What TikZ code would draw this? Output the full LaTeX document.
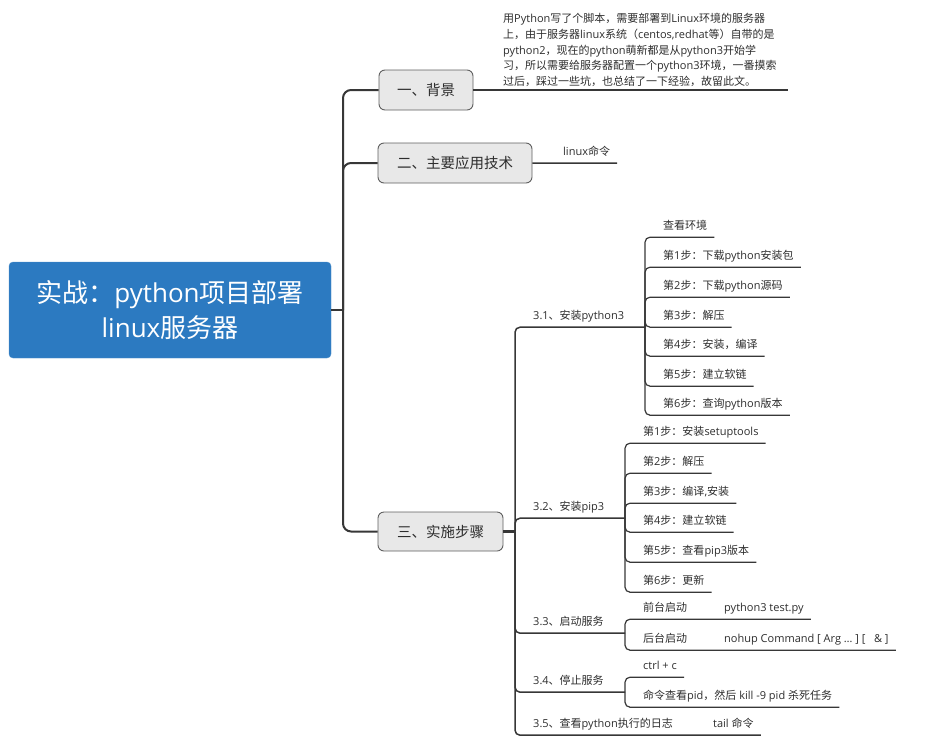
\documentclass[tikz,border=0pt]{standalone}
\usepackage{fontspec}
\setmainfont{Open Sans}
\newfontfamily\cjkf{Noto Sans CJK SC}
\newfontfamily\latf{Open Sans}
\XeTeXinterchartokenstate=1
\newXeTeXintercharclass\CJKcls
\newcount\cjkc
\cjkc="3000
\loop \XeTeXcharclass\cjkc=\CJKcls \advance\cjkc by 1 \ifnum\cjkc<"A000 \repeat
\cjkc="FF00
\loop \XeTeXcharclass\cjkc=\CJKcls \advance\cjkc by 1 \ifnum\cjkc<"FFF0 \repeat
\XeTeXinterchartoks 0 \CJKcls={\cjkf}
\XeTeXinterchartoks 4095 \CJKcls={\cjkf}
\XeTeXinterchartoks \CJKcls 0={\latf}
\XeTeXinterchartoks \CJKcls 4095={\latf}
\definecolor{rootblue}{RGB}{44,122,193}
\definecolor{boxfill}{RGB}{232,232,232}
\definecolor{boxdraw}{RGB}{95,95,95}
\definecolor{ln}{RGB}{55,55,55}
\definecolor{txt}{RGB}{45,45,45}
\tikzset{
  rootbox/.style={draw=rootblue!85!white, fill=rootblue, rounded corners=4pt, minimum width=322pt, minimum height=96pt,
    text=white, align=center, font=\fontsize{26}{35}\selectfont, inner sep=0pt},
  topic/.style={draw=boxdraw, line width=0.9pt, fill=boxfill, rounded corners=6pt, minimum height=40pt, inner sep=0pt,
    text=txt, font=\fontsize{14.5}{17}\selectfont},
  leaf/.style={anchor=base west, inner xsep=7pt, inner ysep=6pt, text height=9pt, text depth=2pt,
    font=\fontsize{11}{13}\selectfont, text=txt},
  trunk/.style={draw=ln, line width=2pt, rounded corners=8pt},
  branch/.style={draw=ln, line width=1.5pt, rounded corners=5pt},
  twig/.style={draw=ln, line width=1.2pt, rounded corners=5pt},
}
\begin{document}
\begin{tikzpicture}[x=1pt, y=-1pt]
\useasboundingbox (0,0) rectangle (944,742);
% root and main topics
\node[rootbox] (root) at (170,310) {实战：python项目部署\\linux服务器};
\node[topic, minimum width=94pt] (b1) at (426,90) {一、背景};
\node[topic, minimum width=154pt] (b2) at (455,163) {二、主要应用技术};
\node[topic, minimum width=125pt, minimum height=39pt] (b3) at (440.5,531.5) {三、实施步骤};
\coordinate (jr) at (343,310);
\draw[trunk] (root.east) -- (jr);
\draw[trunk] (jr) |- (b1.west);
\draw[trunk] (jr) |- (b2.west);
\draw[trunk] (jr) |- (b3.west);
% background
\node[anchor=south west, inner xsep=5pt, inner ysep=0pt, align=left, text=txt,
  font=\fontsize{11}{15.7}\selectfont] (p1) at (498,87)
  {用Python写了个脚本，需要部署到Linux环境的服务器\\
   上，由于服务器linux系统（centos,redhat等）自带的是\\
   python2，现在的python萌新都是从python3开始学\\
   习，所以需要给服务器配置一个python3环境，一番摸索\\
   过后，踩过一些坑，也总结了一下经验，故留此文。};
\coordinate (e1) at (788,90);
\draw[branch] (b1.east) -- (e1);
% tech
\node[leaf] (l2) at (556,155) {linux命令};
\draw[branch] (b2.east) -- (l2.south east);
% steps
\coordinate (j3) at (515,531.5);
\draw[draw=ln, line width=2.5pt] (b3.east) -- (j3);
\node[leaf] (s31) at (526,319) {3.1、安装python3};
\node[leaf] (s32) at (526,510) {3.2、安装pip3};
\node[leaf] (s33) at (526,625) {3.3、启动服务};
\node[leaf] (s34) at (526,684) {3.4、停止服务};
\node[leaf] (s35) at (526,727) {3.5、查看python执行的日志};
\coordinate (j31) at (645,327);
\coordinate (j32) at (625,518);
\coordinate (j33) at (625,633);
\coordinate (j34) at (625,692);
\draw[branch] (j3) |- (s31.south east) -- (j31);
\draw[branch] (j3) |- (s32.south east) -- (j32);
\draw[branch] (j3) |- (s33.south east) -- (j33);
\draw[branch] (j3) |- (s34.south east) -- (j34);
% 3.1
\node[leaf] (a0) at (656,229) {查看环境};
\node[leaf] (a1) at (656,259) {第1步：下载python安装包};
\node[leaf] (a2) at (656,289) {第2步：下载python源码};
\node[leaf] (a3) at (656,319) {第3步：解压};
\node[leaf] (a4) at (656,348) {第4步：安装，编译};
\node[leaf] (a5) at (656,378) {第5步：建立软链};
\node[leaf] (a6) at (656,407) {第6步：查询python版本};
\foreach \n in {a0,a1,a2,a3,a4,a5,a6} \draw[twig] (j31) |- (\n.south east);
% 3.2
\node[leaf] (c1) at (636,435) {第1步：安装setuptools};
\node[leaf] (c2) at (636,465) {第2步：解压};
\node[leaf] (c3) at (636,495) {第3步：编译,安装};
\node[leaf] (c4) at (636,524) {第4步：建立软链};
\node[leaf] (c5) at (636,554) {第5步：查看pip3版本};
\node[leaf] (c6) at (636,584) {第6步：更新};
\foreach \n in {c1,c2,c3,c4,c5,c6} \draw[twig] (j32) |- (\n.south east);
% 3.3
\node[leaf] (q1) at (636,611) {前台启动};
\node[leaf] (q1g) at (717,611) {python3 test.py};
\node[leaf] (q2) at (636,642) {后台启动};
\node[leaf] (q2g) at (717,642) {nohup Command [ Arg … ] [\ \ \ \& ]};
\draw[twig] (j33) |- (q1.south east) -- (q1g.south east);
\draw[twig] (j33) |- (q2.south east) -- (q2g.south east);
% 3.4
\node[leaf] (k1) at (636,669) {ctrl + c};
\node[leaf] (k2) at (636,699) {命令查看pid，然后 kill -9 pid 杀死任务};
\draw[twig] (j34) |- (k1.south east);
\draw[twig] (j34) |- (k2.south east);
% 3.5
\node[leaf] (t35) at (706,727) {tail 命令};
\draw[branch] (j3) |- (s35.south east) -- (t35.south east);
\end{tikzpicture}
\end{document}
